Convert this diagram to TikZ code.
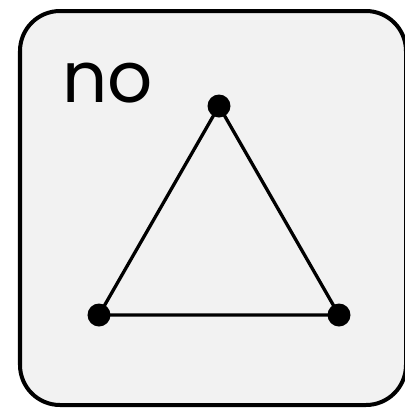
\documentclass[tikz,border=0pt]{standalone}
\usepackage{fontspec}
\setmainfont{Poppins}
\begin{document}
\begin{tikzpicture}[x=1bp,y=-1bp,
  panel/.style={draw=black,line width=4bp,fill=black!5,rounded corners=40bp},
  vertex/.style={circle,fill=black,inner sep=0pt,minimum size=23bp},
  edge/.style={line width=3.3bp}]
\useasboundingbox (0,0) rectangle (405,410);
\begin{scope}
\clip (0,0) rectangle (405,410);
\path[panel] (20,11) rectangle (406,405);
\end{scope}
\node[anchor=base west,inner sep=0pt,font=\fontsize{71}{71}\selectfont] (lbl) at (62,102) {no};
\coordinate (pa) at (219,106);
\coordinate (pb) at (99,315);
\coordinate (pc) at (339,315);
\draw[edge] (pa) -- (pb) -- (pc) -- cycle;
\node[vertex] (a) at (pa) {};
\node[vertex] (b) at (pb) {};
\node[vertex] (c) at (pc) {};
\end{tikzpicture}
\end{document}
